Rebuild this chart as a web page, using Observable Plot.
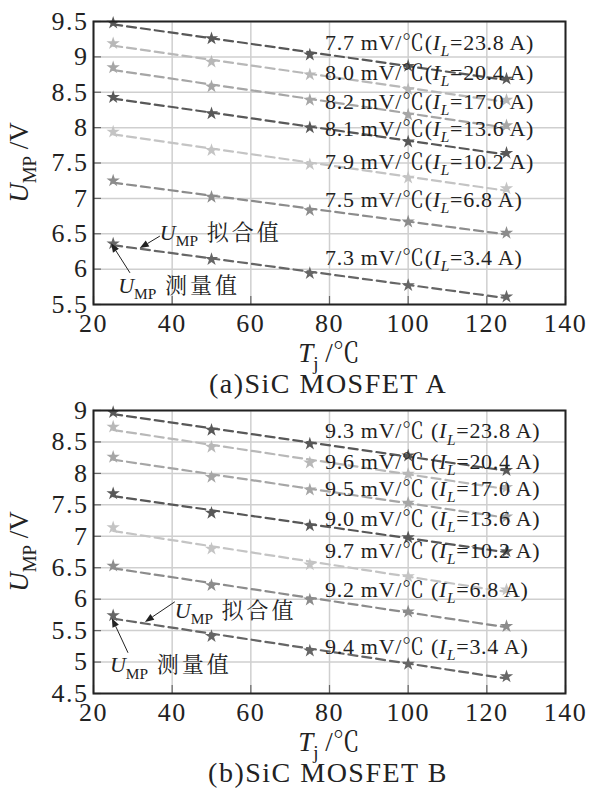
<!DOCTYPE html>
<html><head><meta charset="utf-8">
<script src="https://cdn.jsdelivr.net/npm/d3@7"></script>
<script src="https://cdn.jsdelivr.net/npm/@observablehq/plot@0.6"></script>
</head><body style="margin:0;background:#fff">
<script>
// ---------- data ----------
const temps = [25, 50, 75, 100, 125];
const currents = ["23.8", "20.4", "17.0", "13.6", "10.2", "6.8", "3.4"];
const xTicks = [20, 40, 60, 80, 100, 120, 140];

// (a) SiC MOSFET A : U_MP (V) at each Tj
const umpA_238 = [9.48, 9.26, 9.03, 8.87, 8.69];
const umpA_204 = [9.19, 8.93, 8.75, 8.54, 8.39];
const umpA_170 = [8.85, 8.58, 8.39, 8.18, 8.03];
const umpA_136 = [8.43, 8.20, 8.00, 7.80, 7.64];
const umpA_102 = [7.94, 7.68, 7.48, 7.29, 7.14];
const umpA_068 = [7.25, 7.02, 6.83, 6.67, 6.51];
const umpA_034 = [6.36, 6.14, 5.94, 5.77, 5.61];
const slopesA = ["7.7", "8.0", "8.2", "8.1", "7.9", "7.5", "7.3"];
const yTicksA = [5.5, 6, 6.5, 7, 7.5, 8, 8.5, 9, 9.5];
const labelYA = [9.2, 8.78, 8.37, 7.99, 7.52, 6.98, 6.16];
const labelXA = 79;

// (b) SiC MOSFET B
const umpB_238 = [8.97, 8.69, 8.47, 8.28, 8.05];
const umpB_204 = [8.74, 8.42, 8.17, 7.99, 7.78];
const umpB_170 = [8.26, 7.94, 7.74, 7.53, 7.31];
const umpB_136 = [7.68, 7.37, 7.17, 6.98, 6.76];
const umpB_102 = [7.14, 6.80, 6.55, 6.36, 6.15];
const umpB_068 = [6.53, 6.22, 5.99, 5.80, 5.57];
const umpB_034 = [5.74, 5.41, 5.18, 4.97, 4.77];
const slopesB = ["9.3", "9.6", "9.5", "9.0", "9.7", "9.2", "9.4"];
const yTicksB = [4.5, 5, 5.5, 6, 6.5, 7, 7.5, 8, 8.5, 9];
const labelYB = [8.67, 8.18, 7.755, 7.28, 6.775, 6.15, 5.24];
const labelXB = 79;

// annotation anchors (data units): text position, arrow tail -> head
const notesA = [
  {kind: "拟合值", tx: 37.0, ty: 6.52, x1: 37.0, y1: 6.46, x2: 31.9, y2: 6.29},
  {kind: "测量值", tx: 26.4, ty: 5.77, x1: 29.4, y1: 5.94, x2: 24.6, y2: 6.36}
];
const notesB = [
  {kind: "拟合值", tx: 40.8, ty: 5.82, x1: 40.8, y1: 5.95, x2: 33.2, y2: 5.63},
  {kind: "测量值", tx: 24.3, ty: 4.95, x1: 28.9, y1: 5.14, x2: 24.8, y2: 5.69}
];
const captions = ["(a)SiC MOSFET A", "(b)SiC MOSFET B"];

// styles
const seriesColors = ["#585858", "#b8b8b8", "#a6a6a6", "#585858", "#c4c4c4", "#8c8c8c", "#666666"];
const SERIF = "Liberation Serif";
const CJK = "Noto Serif CJK SC";

// ---------- helpers ----------
function rich(g, x, y, parts, fs, anchor = "start", dy = "0.35em", ls = 0) {
  const t = g.append("text").attr("x", x).attr("y", y).attr("dy", dy)
    .attr("text-anchor", anchor).attr("fill", "#222")
    .attr("font-family", SERIF).attr("font-size", fs);
  if (ls) t.attr("letter-spacing", ls);
  let shift = 0;
  for (const p of parts) {
    const sp = t.append("tspan").text(p.t);
    const target = p.sub ? fs * 0.28 : 0;
    if (target !== shift) { sp.attr("dy", target - shift); shift = target; }
    if (p.sub) sp.attr("font-size", fs * 0.7);
    if (p.i) sp.attr("font-style", "italic");
    if (p.cjk) sp.attr("font-family", CJK);
    if (p.ls) sp.attr("letter-spacing", p.ls);
  }
  return t;
}

function panel({series, yDomain, yTicks, labelY, labelX, slopes, sep, notes, caption, height, marginTop, frameBottom}) {
  const width = 597, marginLeft = 93, marginRight = 32;
  const marginBottom = height - frameBottom;
  const innerH = frameBottom - marginTop, innerW = width - marginLeft - marginRight;
  const marks = [
    Plot.gridX(xTicks, {stroke: "#cfcfcf", strokeOpacity: 1, strokeWidth: 1.5}),
    Plot.gridY(yTicks, {stroke: "#cfcfcf", strokeOpacity: 1, strokeWidth: 1.5}),
    Plot.ruleX(xTicks, {stroke: "#666", strokeWidth: 1.2, insetTop: innerH - 8}),
    Plot.ruleY(yTicks, {stroke: "#666", strokeWidth: 1.2, insetRight: innerW - 8})
  ];
  series.forEach((vals, i) => {
    const rows = temps.map((t, j) => ({t, u: vals[j]}));
    marks.push(Plot.linearRegressionY(rows, {x: "t", y: "u", stroke: seriesColors[i], strokeWidth: 2.2, strokeDasharray: "9,5", ci: 0}));
    marks.push(Plot.dot(rows, {x: "t", y: "u", fill: seriesColors[i], symbol: "star", r: 4.2}));
  });
  marks.push(Plot.frame({stroke: "#222", strokeWidth: 2}));
  const plot = Plot.plot({
    width, height, marginTop, marginBottom, marginLeft, marginRight,
    style: {fontFamily: SERIF, fontSize: "26px", color: "#222"},
    x: {domain: [20, 140], ticks: xTicks, tickSize: 0, tickPadding: 9, label: null},
    y: {domain: yDomain, ticks: yTicks, tickSize: 0, tickPadding: 5, label: null, tickFormat: d => String(d)},
    marks
  });
  const svg = d3.select(plot);
  svg.selectAll('g[aria-label$="tick label"]').attr("letter-spacing", 1.5);
  const X = plot.scale("x").apply, Y = plot.scale("y").apply;
  const g = svg.append("g");
  // series labels
  slopes.forEach((s, i) => {
    rich(g, X(labelX), Y(labelY[i]), [
      {t: s + " mV/"}, {t: "℃", cjk: true}, {t: sep + "("}, {t: "I", i: true}, {t: "L", i: true, sub: true}, {t: "=" + currents[i] + " A)"}
    ], 22, "start", "0.35em", 0.7);
  });
  // annotations
  for (const n of notes) {
    const x1 = X(n.x1), y1 = Y(n.y1), x2 = X(n.x2), y2 = Y(n.y2);
    const a = Math.atan2(y2 - y1, x2 - x1), L = 9, w = 3.5;
    const bx = x2 - L * Math.cos(a), by = y2 - L * Math.sin(a);
    g.append("line").attr("x1", x1).attr("y1", y1).attr("x2", bx).attr("y2", by)
      .attr("stroke", "#222").attr("stroke-width", 1);
    g.append("polygon").attr("fill", "#222").attr("points", [
      [x2, y2],
      [bx + w * Math.sin(a), by - w * Math.cos(a)],
      [bx - w * Math.sin(a), by + w * Math.cos(a)]
    ].map(p => p.join(",")).join(" "));
    rich(g, X(n.tx), Y(n.ty), [
      {t: "U", i: true}, {t: "MP", sub: true}, {t: " " + n.kind, cjk: true, ls: 3}
    ], 22, "start");
  }
  // axis titles
  const cy = marginTop + innerH / 2;
  const gy = g.append("g").attr("transform", `translate(28,${cy}) rotate(-90)`);
  rich(gy, 0, 0, [{t: "U", i: true}, {t: "MP", sub: true}, {t: " /V"}], 27, "middle", "0");
  rich(g, marginLeft + innerW / 2, frameBottom + 58, [{t: "T", i: true}, {t: "j", sub: true}, {t: " /"}, {t: "℃", cjk: true}], 27, "middle", "0");
  // caption
  rich(g, 328, frameBottom + 89, [{t: caption}], 28, "middle", "0", 1.5);
  return plot;
}

document.body.appendChild(panel({
  series: [umpA_238, umpA_204, umpA_170, umpA_136, umpA_102, umpA_068, umpA_034],
  yDomain: [5.5, 9.5], yTicks: yTicksA, labelY: labelYA, labelX: labelXA, slopes: slopesA, sep: "",
  notes: notesA, caption: captions[0], height: 400, marginTop: 21, frameBottom: 304
}));
document.body.appendChild(panel({
  series: [umpB_238, umpB_204, umpB_170, umpB_136, umpB_102, umpB_068, umpB_034],
  yDomain: [4.5, 9], yTicks: yTicksB, labelY: labelYB, labelX: labelXB, slopes: slopesB, sep: " ",
  notes: notesB, caption: captions[1], height: 399, marginTop: 10, frameBottom: 293
}));
</script>
</body></html>
